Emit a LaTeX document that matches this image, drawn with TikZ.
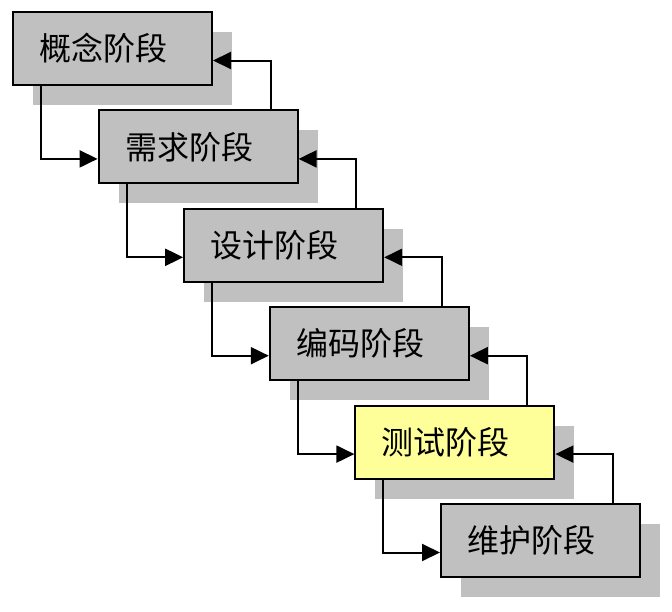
\documentclass[tikz,border=0pt]{standalone}
\usepackage{fontspec}
\usepackage{xcolor}
\usepackage{tikz}
\usetikzlibrary{arrows.meta,shadows}
\newfontfamily\cjk{Noto Sans CJK SC}
\definecolor{phasegray}{RGB}{192, 192, 192}
\definecolor{phaseyellow}{RGB}{255, 255, 153}

\tikzset{
    phase/.style={draw, line width=2pt, fill=phasegray,
        minimum width=199pt, minimum height=73pt, inner sep=0pt,
        font=\cjk\fontsize{32}{36}\selectfont,
        execute at begin node={\kern-18pt},
        drop shadow={shadow xshift=20pt, shadow yshift=-20pt, fill=phasegray, opacity=1}},
    flow/.style={line width=2pt, -{Triangle[length=18pt, width=17pt]}}
}

\begin{document}
\begin{tikzpicture}[x=1pt, y=-1pt]
    \useasboundingbox (0,0) rectangle (672,611);

    % Phases
    \node[phase] (concept) at (112.5,48.5) {概念阶段};
    \node[phase] (require) at (198.1,146.9) {需求阶段};
    \node[phase] (design) at (283.7,245.3) {设计阶段};
    \node[phase] (coding) at (369.3,343.7) {编码阶段};
    \node[phase, fill=phaseyellow] (testing) at (454.9,442.1) {测试阶段};
    \node[phase] (maintain) at (540.5,540.5) {维护阶段};

    % Forward flow
    \draw[flow] ([xshift=29pt]concept.south west) |- ([yshift=-12pt]require.west);
    \draw[flow] ([xshift=29pt]require.south west) |- ([yshift=-12pt]design.west);
    \draw[flow] ([xshift=29pt]design.south west) |- ([yshift=-12pt]coding.west);
    \draw[flow] ([xshift=29pt]coding.south west) |- ([yshift=-12pt]testing.west);
    \draw[flow] ([xshift=29pt]testing.south west) |- ([yshift=-12pt]maintain.west);

    % Feedback
    \draw[flow] ([xshift=-28pt]require.north east) |- ([yshift=-12pt]concept.east);
    \draw[flow] ([xshift=-28pt]design.north east) |- ([yshift=-12pt]require.east);
    \draw[flow] ([xshift=-28pt]coding.north east) |- ([yshift=-12pt]design.east);
    \draw[flow] ([xshift=-28pt]testing.north east) |- ([yshift=-12pt]coding.east);
    \draw[flow] ([xshift=-28pt]maintain.north east) |- ([yshift=-12pt]testing.east);
\end{tikzpicture}
\end{document}
